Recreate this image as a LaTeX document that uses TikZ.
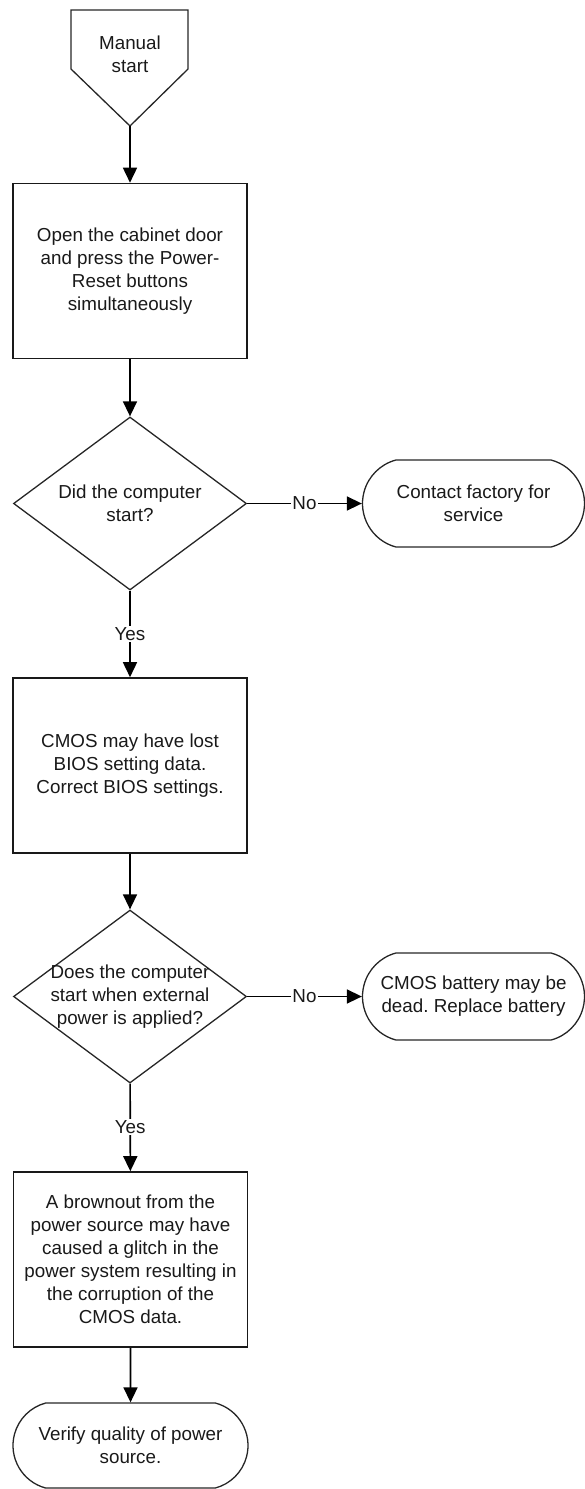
\documentclass[tikz,border=0pt]{standalone}
\usepackage{fontspec}
\setmainfont{Liberation Sans}
\usetikzlibrary{shapes.geometric,shapes.misc,arrows.meta}
\frenchspacing
\begin{document}
\begin{tikzpicture}[x=1pt,y=-1pt,
 every node/.style={font=\fontsize{18.8}{23}\selectfont, align=center, text=black!90},
 procbox/.style={draw=black!90, line width=1.6pt, minimum width=234pt, minimum height=175pt, inner sep=0pt},
 decision/.style={draw=black!85, line width=1.3pt, diamond, minimum width=233pt, minimum height=173pt, inner sep=0pt},
 term/.style={draw=black!85, line width=1.3pt, rounded rectangle, rounded rectangle arc length=150, minimum width=222pt, minimum height=87pt, inner sep=0pt},
 flow/.style={draw=black, line width=1.6pt, -{Triangle[width=14pt,length=15pt]}},
 lbl/.style={fill=white, inner sep=1.5pt}
]
\useasboundingbox (0,0) rectangle (585,1489);

% Manual start (off-page shape)
\draw[draw=black!85, line width=1.3pt] (71,10) -- (188,10) -- (188,69) -- (130,126) -- (71,69) -- cycle;
\node (ms) at (130,54) {Manual\\start};
\coordinate (mstip) at (130,126);

\node[procbox] (b1) at (130,271) {Open the cabinet door\\and press the Power-\\Reset buttons\\simultaneously};
\node[decision] (d1) at (130,503.5) {};
\node (d1t) at (d1) {Did the computer\\start?};
\node[term] (t1) at (473.5,503.5) {Contact factory for\\service};

\node[procbox] (b2) at (130,765.5) {CMOS may have lost\\BIOS setting data.\\Correct BIOS settings.};
\node[decision] (d2) at (130,996.5) {};
\node (d2t) at (d2) {Does the computer\\start when external\\power is applied?};
\node[term] (t2) at (473.5,996.5) {CMOS battery may be\\dead. Replace battery};

\node[procbox] (b3) at (130.5,1259.5) {A brownout from the\\power source may have\\caused a glitch in the\\power system resulting in\\the corruption of the\\CMOS data.};
\node[term, minimum width=235pt, minimum height=85pt] (t3) at (130.5,1445.5) {Verify quality of power\\source.};

% connectors
\draw[flow] (mstip) -- (b1);
\draw[flow] (b1) -- (d1);
\draw[flow] (d1) -- node[lbl]{No} (t1);
\draw[flow] (d1) -- node[lbl]{Yes} (b2);
\draw[flow] (b2) -- (d2);
\draw[flow] (d2) -- node[lbl]{No} (t2);
\draw[flow] (d2) -- node[lbl]{Yes} (b3);
\draw[flow] (b3) -- (t3);
\end{tikzpicture}
\end{document}
